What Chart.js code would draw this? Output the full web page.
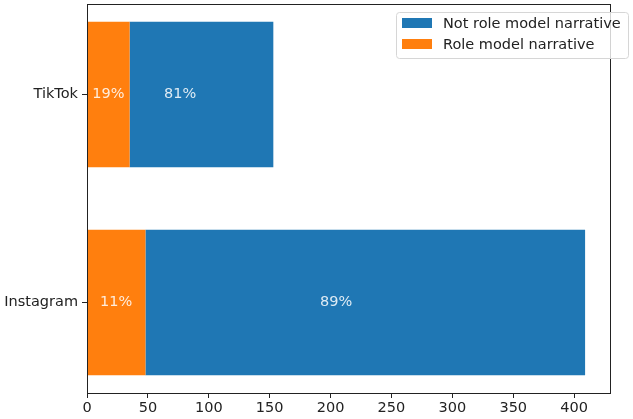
<!DOCTYPE html>
<html>
<head>
<meta charset="utf-8">
<script src="https://cdn.jsdelivr.net/npm/chart.js@4"></script>
<style>
  html, body { margin: 0; padding: 0; background: #fff; }
  #wrap { width: 633px; height: 419px; }
</style>
</head>
<body>
<div id="wrap"><canvas id="chartNarr" width="633" height="419"></canvas></div>
<script>
// data (Instagram at bottom, TikTok at top)
const platforms = ["Instagram", "TikTok"];
const roleModel = [48, 35];
const notRoleModel = [361, 118];
const roleLabels = ["11%", "19%"];
const notRoleLabels = ["89%", "81%"];
const xTicks = [0, 50, 100, 150, 200, 250, 300, 350, 400];

const FONT = "'DejaVu Sans', sans-serif";
const FS = 14.5;

const data = {
  datasets: [
    {
      label: "Role model narrative",
      data: roleModel.map((v, i) => ({ x: v, y: i })),
      backgroundColor: "#ff7f0e",
      borderWidth: 0,
      barPercentage: 0.7,
      categoryPercentage: 1,
    },
    {
      label: "Not role model narrative",
      data: notRoleModel.map((v, i) => ({ x: v, y: i })),
      backgroundColor: "#1f77b4",
      borderWidth: 0,
      barPercentage: 0.7,
      categoryPercentage: 1,
    },
  ],
};

// percentage labels: orange one centred in its segment, blue one at half the total
const barLabels = {
  id: "barLabels",
  afterDatasetsDraw(chart) {
    const ctx = chart.ctx;
    const xs = chart.scales.x, ys = chart.scales.y;
    ctx.save();
    ctx.font = FS + "px " + FONT;
    ctx.fillStyle = "rgba(255,255,255,0.85)";
    ctx.textAlign = "center";
    ctx.textBaseline = "middle";
    platforms.forEach((p, i) => {
      const y = ys.getPixelForValue(i);
      ctx.fillText(roleLabels[i], xs.getPixelForValue(roleModel[i] / 2), y);
      ctx.fillText(notRoleLabels[i], xs.getPixelForValue((roleModel[i] + notRoleModel[i]) / 2), y);
    });
    ctx.restore();
  },
};

// matplotlib-like frame and legend box
const frameLegend = {
  id: "frameLegend",
  afterDraw(chart) {
    const ctx = chart.ctx;
    const a = chart.chartArea;
    ctx.save();
    ctx.strokeStyle = "#222";
    ctx.lineWidth = 1;
    ctx.strokeRect(Math.round(a.left) + 0.5, Math.round(a.top) + 0.5,
      Math.round(a.right - a.left), Math.round(a.bottom - a.top));

    // legend
    const lx = 396, ly = 12, lw = 232, lh = 46;
    ctx.fillStyle = "rgba(255,255,255,0.8)";
    ctx.strokeStyle = "#d6d6d6";
    ctx.beginPath();
    ctx.roundRect(lx + 0.5, ly + 0.5, lw, lh, 3);
    ctx.fill();
    ctx.stroke();
    const items = [chart.data.datasets[1], chart.data.datasets[0]];
    ctx.font = FS + "px " + FONT;
    ctx.textBaseline = "middle";
    items.forEach((ds, k) => {
      const cy = ly + 11 + k * 21;
      ctx.fillStyle = ds.backgroundColor;
      ctx.fillRect(402, cy - 5, 30, 10);
      ctx.fillStyle = "#222";
      ctx.fillText(ds.label, 443, cy + 1);
    });
    ctx.restore();
  },
};

const config = {
  type: "bar",
  data,
  options: {
    indexAxis: "y",
    responsive: false,
    animation: false,
    layout: { padding: { top: 4, right: 23, left: 0, bottom: 0 } },
    plugins: { legend: { display: false }, tooltip: { enabled: false } },
    scales: {
      x: {
        type: "linear",
        stacked: true,
        min: 0,
        max: 429.45,
        afterBuildTicks: (scale) => { scale.ticks = xTicks.map((v) => ({ value: v })); },
        afterFit: (scale) => { scale.height = 26; },
        grid: { drawOnChartArea: false, drawTicks: true, tickLength: 5, color: "#222" },
        border: { display: true, color: "#222" },
        ticks: { color: "#222", font: { family: FONT, size: FS }, padding: 2, maxRotation: 0 },
      },
      y: {
        type: "linear",
        stacked: true,
        offset: false,
        min: -0.435,
        max: 1.435,
        afterBuildTicks: (scale) => { scale.ticks = platforms.map((p, i) => ({ value: i })); },
        afterFit: (scale) => {
          scale.width = 87;
          scale.paddingTop = 0;
          scale.paddingBottom = 0;
        },
        grid: { offset: false, drawOnChartArea: false, drawTicks: true, tickLength: 5, color: "#222" },
        border: { display: true, color: "#222" },
        ticks: {
          color: "#222",
          font: { family: FONT, size: FS },
          padding: 4,
          callback: (v) => platforms[v] ?? "",
        },
      },
    },
  },
  plugins: [barLabels, frameLegend],
};

const chartNarr = new Chart(document.getElementById("chartNarr"), config);
</script>
</body>
</html>
